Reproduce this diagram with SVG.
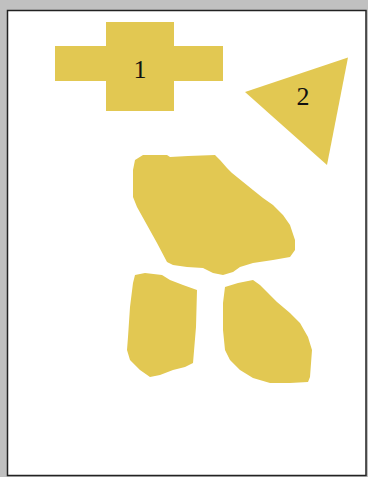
<svg xmlns="http://www.w3.org/2000/svg" width="368" height="477" viewBox="0 0 368 477">
<style>
.shape{fill:#e2c852;stroke:none}
.lbl{font-family:"Liberation Serif","DejaVu Serif",serif;font-size:26px;fill:#111;text-anchor:middle;dominant-baseline:central}
</style>
<rect x="0" y="0" width="368" height="477" fill="#c0c0c0"/>
<rect x="7.5" y="10.5" width="358.5" height="465" fill="#ffffff" stroke="#222" stroke-width="1.5"/>
<g id="node1">
<path class="shape" d="M106,22 H174 V46 H223 V81 H174 V111 H106 V81 H55 V46 H106 Z"/>
<text class="lbl" x="140" y="69">1</text>
</g>
<g id="node2">
<polygon class="shape" points="245,92 348,57.5 327,165"/>
<text class="lbl" x="303" y="96">2</text>
</g>
<g id="blob1">
<path class="shape" d="M135,160 L143,155 L167,155 L170,157 L188,156 L215,155 L220,160 L227,168 L232,173 L253,190 L263,198 L273,205 L283,215 L290,225 L295,240 L295,250 L290,257 L273,260 L253,263 L240,267 L233,272 L223,275 L213,273 L203,268 L187,267 L173,265 L167,262 L157,243 L147,225 L137,207 L133,197 L133,170 Z"/>
</g>
<g id="blob2">
<path class="shape" d="M135,275 L145,273 L162,275 L170,280 L183,285 L197,290 L196,327 L193,363 L185,367 L173,370 L160,375 L150,377 L140,370 L130,360 L127,350 L128,337 L130,307 L133,283 Z"/>
</g>
<g id="blob3">
<path class="shape" d="M225,287 L238,283 L253,280 L260,285 L268,293 L277,302 L290,313 L300,323 L308,337 L312,350 L310,377 L308,382 L290,383 L270,383 L253,378 L240,370 L230,360 L225,350 L223,330 L223,303 Z"/>
</g>
<g id="connectors"></g>
</svg>
